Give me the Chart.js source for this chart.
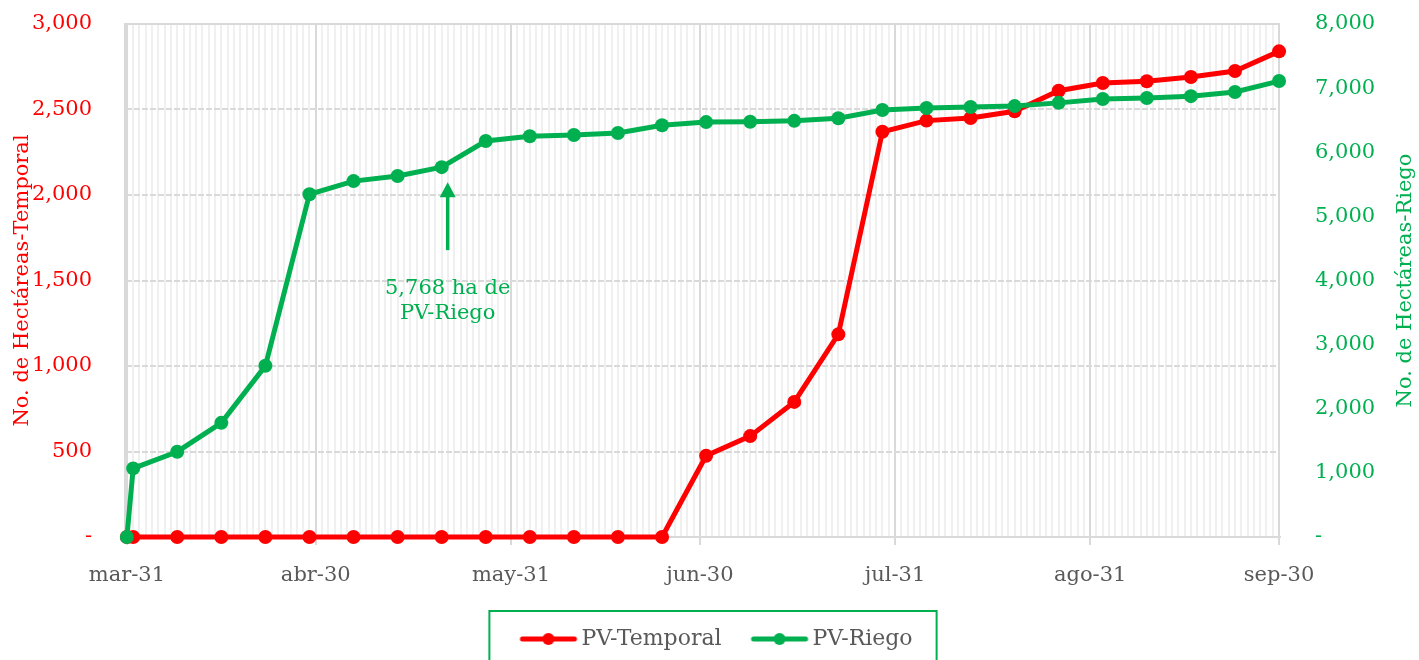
<!DOCTYPE html>
<html>
<head>
<meta charset="utf-8">
<script src="https://cdn.jsdelivr.net/npm/chart.js@4.4.0/dist/chart.umd.min.js"></script>
<style>
  html, body { margin: 0; padding: 0; background: #fff; }
  canvas { display: block; }
</style>
</head>
<body>
<canvas id="chart" width="1419" height="660"></canvas>
<script>
// Data
const startDate = '2024-03-31';
const pointDates = [
  '2024-03-31', '2024-04-01', '2024-04-08', '2024-04-15', '2024-04-22', '2024-04-29',
  '2024-05-06', '2024-05-13', '2024-05-20', '2024-05-27', '2024-06-03', '2024-06-10',
  '2024-06-17', '2024-06-24', '2024-07-01', '2024-07-08', '2024-07-15', '2024-07-22',
  '2024-07-29', '2024-08-05', '2024-08-12', '2024-08-19', '2024-08-26', '2024-09-02',
  '2024-09-09', '2024-09-16', '2024-09-23', '2024-09-30'
];
const temporal = [
  0, 0, 0, 0, 0, 0, 0, 0, 0, 0, 0, 0, 0, 0,
  475, 590, 790, 1185, 2370, 2435, 2450, 2490, 2610, 2655, 2665, 2690, 2725, 2840
];
const riego = [
  0, 1070, 1330, 1780, 2670, 5345, 5550, 5630, 5768, 6175, 6250, 6270, 6300, 6420,
  6470, 6475, 6490, 6530, 6660, 6690, 6705, 6720, 6770, 6830, 6845, 6875, 6940, 7110
];
const monthTickDates = ['2024-03-31', '2024-04-30', '2024-05-31', '2024-06-30', '2024-07-31', '2024-08-31', '2024-09-30'];
const monthTickLabels = ['mar-31', 'abr-30', 'may-31', 'jun-30', 'jul-31', 'ago-31', 'sep-30'];
const seriesNames = ['PV-Temporal', 'PV-Riego'];
const annotationIndex = 8; // 5,768 ha
const annotationLines = ['5,768 ha de', 'PV-Riego'];

const RED = '#FF0000';
const GREEN = '#00B050';
const GRID = '#D9D9D9';
const GRID_MINOR = '#F0F0F0';
const TEXT = '#595959';
const FONT = "'DejaVu Serif', serif";
const NONE = 'rgba(0,0,0,0)';

const dayOf = d => Math.round((Date.parse(d) - Date.parse(startDate)) / 86400000);
const pointDays = pointDates.map(dayOf);
const monthDays = monthTickDates.map(dayOf);
const lastDay = monthDays[monthDays.length - 1];

const fmt = v => v === 0 ? '-' : v.toLocaleString('en-US');

// legend symbol: line with a dot
function legendMarker(color) {
  const c = document.createElement('canvas');
  c.width = 80; c.height = 16;
  const g = c.getContext('2d');
  g.strokeStyle = color; g.lineWidth = 5; g.lineCap = 'round';
  g.beginPath(); g.moveTo(24, 8); g.lineTo(76, 8); g.stroke();
  g.fillStyle = color;
  g.beginPath(); g.arc(50, 8, 6, 0, Math.PI * 2); g.fill();
  return c;
}

Chart.defaults.font.family = FONT;
Chart.defaults.font.size = 21;
Chart.defaults.color = TEXT;

const extras = {
  id: 'extras',
  afterDraw(chart) {
    const ctx = chart.ctx;
    const area = chart.chartArea;
    ctx.save();
    // top border of plot
    ctx.strokeStyle = GRID; ctx.lineWidth = 2;
    ctx.beginPath(); ctx.moveTo(area.left, area.top); ctx.lineTo(area.right, area.top); ctx.stroke();

    // annotation arrow + text
    const pt = chart.getDatasetMeta(1).data[annotationIndex];
    const ax = pt.x + 6;
    ctx.fillStyle = GREEN; ctx.strokeStyle = GREEN;
    ctx.lineWidth = 3.5;
    ctx.beginPath(); ctx.moveTo(ax, pt.y + 83); ctx.lineTo(ax, pt.y + 28); ctx.stroke();
    ctx.beginPath();
    ctx.moveTo(ax, pt.y + 15); ctx.lineTo(ax - 8, pt.y + 30); ctx.lineTo(ax + 8, pt.y + 30);
    ctx.closePath(); ctx.fill();
    ctx.font = '21px ' + FONT;
    ctx.textAlign = 'center'; ctx.textBaseline = 'alphabetic';
    ctx.fillText(annotationLines[0], ax, pt.y + 127);
    ctx.fillText(annotationLines[1], ax, pt.y + 152);

    // right axis title (reads bottom to top)
    const yR = chart.scales.yR;
    ctx.font = '21px ' + FONT;
    ctx.textBaseline = 'middle';
    ctx.save();
    ctx.translate(yR.right - 13, (area.top + area.bottom) / 2);
    ctx.rotate(-Math.PI / 2);
    ctx.fillText('No. de Hectáreas-Riego', 0, 0);
    ctx.restore();

    // legend frame
    const boxes = chart.legend.legendHitBoxes;
    if (boxes && boxes.length) {
      const l = boxes[0].left - 17;
      const last = boxes[boxes.length - 1];
      const r = last.left + last.width + 24;
      ctx.strokeStyle = GREEN; ctx.lineWidth = 2;
      ctx.strokeRect(l, chart.legend.top - 1, r - l, 70);
    }
    ctx.restore();
  }
};

new Chart(document.getElementById('chart'), {
  type: 'line',
  data: {
    datasets: [
      {
        label: seriesNames[0],
        data: pointDays.map((d, i) => ({ x: d, y: temporal[i] })),
        yAxisID: 'yL',
        borderColor: RED, backgroundColor: RED,
        borderWidth: 5, pointRadius: 7, pointBorderWidth: 0,
        clip: false, order: 1
      },
      {
        label: seriesNames[1],
        data: pointDays.map((d, i) => ({ x: d, y: riego[i] })),
        yAxisID: 'yR',
        borderColor: GREEN, backgroundColor: GREEN,
        borderWidth: 5, pointRadius: 7, pointBorderWidth: 0,
        clip: false, order: 0
      }
    ]
  },
  options: {
    responsive: false,
    animation: false,
    layout: { padding: { top: 24, left: 0, right: 0, bottom: 0 } },
    plugins: {
      tooltip: { enabled: false },
      legend: {
        position: 'bottom',
        labels: {
          padding: 16,
          color: TEXT,
          usePointStyle: true,
          pointStyleWidth: 64,
          font: { size: 22 },
          sort: (a, b) => a.datasetIndex - b.datasetIndex,
          generateLabels(chart) {
            return chart.data.datasets.map((ds, i) => ({
              text: ds.label,
              datasetIndex: i,
              fontColor: TEXT,
              lineWidth: 0,
              hidden: false,
              pointStyle: legendMarker(ds.borderColor)
            }));
          }
        }
      }
    },
    scales: {
      x: {
        type: 'linear',
        min: -0.3,
        max: lastDay + 0.15,
        afterBuildTicks(scale) {
          const t = [];
          for (let d = 0; d <= lastDay; d++) t.push({ value: d });
          scale.ticks = t;
        },
        afterFit(scale) { scale.height = 75; },
        grid: {
          color: c => monthDays.includes(c.tick && c.tick.value) ? GRID : GRID_MINOR,
          lineWidth: 2,
          tickColor: c => monthDays.includes(c.tick && c.tick.value) ? GRID : NONE,
          tickLength: 8,
          tickWidth: 2
        },
        border: { display: true, color: GRID, width: 2 },
        ticks: {
          autoSkip: false,
          maxRotation: 0,
          padding: 18,
          color: TEXT,
          callback: v => {
            const i = monthDays.indexOf(v);
            return i >= 0 ? monthTickLabels[i] : '';
          }
        }
      },
      yL: {
        position: 'left',
        min: 0, max: 3000,
        afterFit(scale) { scale.width = 125; },
        ticks: { stepSize: 500, color: RED, padding: 0, callback: v => fmt(v) },
        grid: { color: GRID, lineWidth: 2, drawTicks: true, tickLength: 33, tickColor: NONE },
        border: { display: true, color: GRID, width: 2, dash: [6, 2] },
        title: { display: true, text: 'No. de Hectáreas-Temporal', color: RED, padding: { top: 10, bottom: 0 }, font: { size: 21 } }
      },
      yR: {
        position: 'right',
        min: 0, max: 8000,
        afterFit(scale) { scale.width = 139; },
        ticks: { stepSize: 1000, color: GREEN, padding: 0, callback: v => fmt(v) },
        grid: { display: true, drawOnChartArea: false, drawTicks: true, tickLength: 35, tickColor: NONE },
        border: { display: false }
      }
    }
  },
  plugins: [extras]
});
</script>
</body>
</html>
